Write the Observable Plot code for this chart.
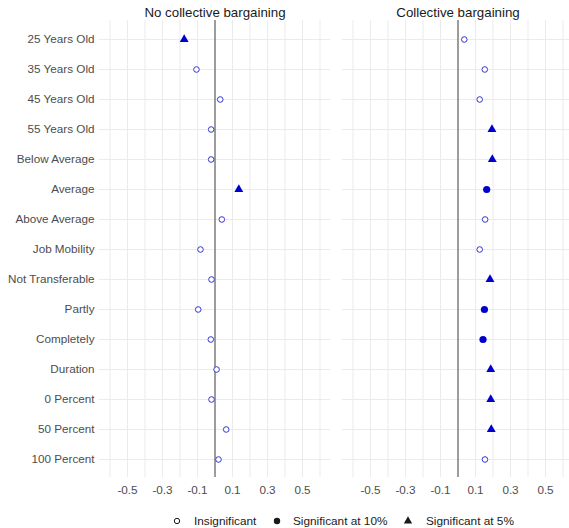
<!DOCTYPE html>
<html>
<head>
<meta charset="utf-8">
<script src="https://cdn.jsdelivr.net/npm/d3@7"></script>
<script src="https://cdn.jsdelivr.net/npm/@observablehq/plot@0.6"></script>
<style>
  html, body { margin: 0; padding: 0; background: white; overflow: hidden; }
  #wrap { position: relative; width: 569px; height: 528px; overflow: hidden; font-family: "Liberation Sans", Arial, sans-serif; }
  #legend { position: absolute; left: 0; top: 0; width: 569px; height: 528px; pointer-events: none; }
  #legend span { position: absolute; top: 514px; font-size: 11.8px; color: #1a1a1a; line-height: 14px; white-space: nowrap; }
  #legend svg { position: absolute; left: 0; top: 0; }
</style>
</head>
<body>
<div id="wrap"><div id="chart"></div><div id="legend"></div></div>
<script>
const categories = ["25 Years Old", "35 Years Old", "45 Years Old", "55 Years Old", "Below Average", "Average", "Above Average", "Job Mobility", "Not Transferable", "Partly", "Completely", "Duration", "0 Percent", "50 Percent", "100 Percent"];
const panels = ["No collective bargaining", "Collective bargaining"];
const sigLevels = ["Insignificant", "Significant at 10%", "Significant at 5%"];

const noCBValues = [-0.176, -0.106, 0.030, -0.022, -0.022, 0.136, 0.039, -0.083, -0.020, -0.096, -0.024, 0.009, -0.020, 0.064, 0.020];
const noCBSig = ["Significant at 5%", "Insignificant", "Insignificant", "Insignificant", "Insignificant", "Significant at 5%", "Insignificant", "Insignificant", "Insignificant", "Insignificant", "Insignificant", "Insignificant", "Insignificant", "Insignificant", "Insignificant"];

const cbValues = [0.036, 0.153, 0.124, 0.194, 0.196, 0.164, 0.155, 0.124, 0.183, 0.151, 0.143, 0.187, 0.187, 0.190, 0.154];
const cbSig = ["Insignificant", "Insignificant", "Insignificant", "Significant at 5%", "Significant at 5%", "Significant at 10%", "Insignificant", "Insignificant", "Significant at 5%", "Significant at 10%", "Significant at 10%", "Significant at 5%", "Significant at 5%", "Significant at 5%", "Insignificant"];

const xTickLabels = [-0.5, -0.3, -0.1, 0.1, 0.3, 0.5];
const xGridLines = [-0.6, -0.5, -0.4, -0.3, -0.2, -0.1, 0, 0.1, 0.2, 0.3, 0.4, 0.5, 0.6];

const rows = [
  ...categories.map((c, i) => ({panel: panels[0], category: c, value: noCBValues[i], sig: noCBSig[i]})),
  ...categories.map((c, i) => ({panel: panels[1], category: c, value: cbValues[i], sig: cbSig[i]}))
];

const blue = "#0000cd";

const chart = Plot.plot({
  width: 574,
  height: 505,
  marginLeft: 99,
  marginRight: 1,
  marginTop: 20,
  marginBottom: 28,
  style: {
    fontFamily: "'Liberation Sans', Arial, sans-serif",
    fontSize: "11.7px",
    color: "#4d4d4d",
    background: "white",
    maxWidth: "none",
    overflow: "visible"
  },
  fx: {domain: panels, axis: null, paddingInner: 12 / 243, paddingOuter: 0},
  x: {domain: [-0.66, 0.66], ticks: xTickLabels, tickFormat: d => d.toFixed(1), tickSize: 0, tickPadding: 8, label: null},
  y: {domain: categories, padding: 0.6, tickSize: 0, tickPadding: 5, label: null},
  marks: [
    Plot.ruleY(categories, {y: d => d, stroke: "#ebebeb", strokeWidth: 1}),
    Plot.ruleX(xGridLines, {x: d => d, stroke: "#ebebeb", strokeWidth: 1}),
    Plot.ruleX([0], {x: d => d, stroke: "#444444", strokeWidth: 1}),
    Plot.dot(rows.filter(d => d.sig === "Insignificant"), {fx: "panel", x: "value", y: "category", r: 2.8, stroke: "#3535cc", strokeWidth: 1, fill: "white"}),
    Plot.dot(rows.filter(d => d.sig === "Significant at 10%"), {fx: "panel", x: "value", y: "category", r: 3.6, fill: blue, stroke: "none"}),
    Plot.dot(rows.filter(d => d.sig === "Significant at 5%"), {fx: "panel", x: "value", y: "category", r: 3.3, symbol: "triangle", fill: blue, stroke: "none"}),
    Plot.text(panels, {fx: d => d, text: d => d, frameAnchor: "top", lineAnchor: "middle", dy: -8, fontSize: 13.3, fill: "#1a1a1a"})
  ]
});
document.getElementById("chart").appendChild(chart);

// Legend
const legend = document.getElementById("legend");
const legendItems = [
  {label: sigLevels[0], sx: 177, tx: 194},
  {label: sigLevels[1], sx: 277, tx: 293},
  {label: sigLevels[2], sx: 408, tx: 426}
];
const lsvg = d3.select(legend).append("svg").attr("width", 569).attr("height", 528);
lsvg.append("circle").attr("cx", legendItems[0].sx).attr("cy", 521).attr("r", 2.7).attr("fill", "white").attr("stroke", "#1a1a1a").attr("stroke-width", 1);
lsvg.append("circle").attr("cx", legendItems[1].sx).attr("cy", 521).attr("r", 3.2).attr("fill", "#1a1a1a");
lsvg.append("path").attr("transform", `translate(${legendItems[2].sx},521)`).attr("d", d3.symbol(d3.symbolTriangle, 30)()).attr("fill", "#1a1a1a");
for (const it of legendItems) {
  const s = document.createElement("span");
  s.textContent = it.label;
  s.style.left = it.tx + "px";
  legend.appendChild(s);
}
</script>
</body>
</html>
